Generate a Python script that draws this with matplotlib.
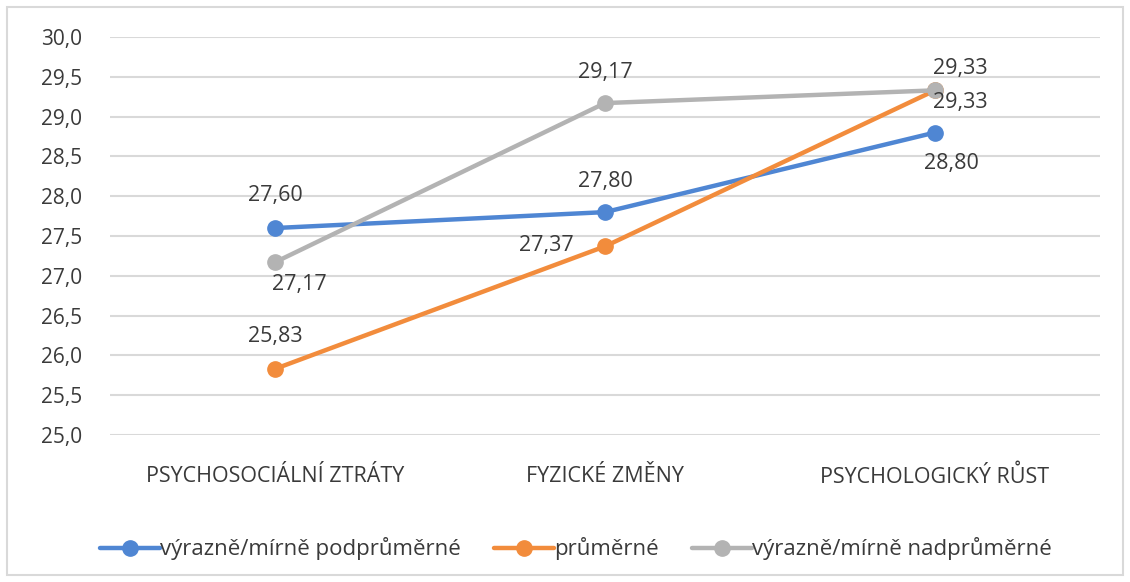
import matplotlib.pyplot as plt
from matplotlib.patches import Rectangle

plt.rcParams['font.family'] = ['Open Sans', 'DejaVu Sans']

# Data
categories = ["PSYCHOSOCIÁLNÍ ZTRÁTY", "FYZICKÉ ZMĚNY", "PSYCHOLOGICKÝ RŮST"]
series_names = ["výrazně/mírně podprůměrné", "průměrné", "výrazně/mírně nadprůměrné"]
below_avg = [27.60, 27.80, 28.80]
average = [25.83, 27.37, 29.33]
above_avg = [27.17, 29.17, 29.33]
y_ticks = [25.0, 25.5, 26.0, 26.5, 27.0, 27.5, 28.0, 28.5, 29.0, 29.5, 30.0]

colors = ["#4f86d3", "#f28c3c", "#b3b3b3"]
text_color = "#3a3a3a"

# label offsets in pixels (dx, dy) for each series / point
offsets = [
    [(0, 33), (0, 31), (16, -31)],
    [(0, 32), (-59, 1), (25, -12)],
    [(24, -22), (0, 31), (25, 22)],
]

fig = plt.figure(figsize=(11.3, 5.82), dpi=100)
ax = fig.add_axes([0.0973, 0.2526, 0.8762, 0.6838])

x = list(range(len(categories)))
all_series = [below_avg, average, above_avg]
for vals, name, col, offs in zip(all_series, series_names, colors, offsets):
    ax.plot(x, vals, color=col, lw=3.2, marker='o', markersize=11,
            label=name, solid_capstyle='round', zorder=3)
    for xi, v, (dx, dy) in zip(x, vals, offs):
        ax.annotate(f"{v:.2f}".replace('.', ','), (xi, v), xytext=(dx, dy),
                    textcoords='offset pixels', ha='center', va='center',
                    fontsize=15.5, color=text_color, zorder=4)

ax.set_xlim(-0.5, 2.5)
ax.set_ylim(25.0, 30.0)
ax.set_yticks(y_ticks)
ax.set_yticklabels([f"{t:.1f}".replace('.', ',') for t in y_ticks],
                   fontsize=15, color=text_color)
ax.set_xticks(x)
ax.set_xticklabels(categories, fontsize=15.5, color=text_color)
ax.tick_params(length=0, pad=22, axis='x')
ax.tick_params(length=0, pad=20, axis='y')
ax.grid(axis='y', color='#d9d9d9', lw=1.5)
ax.set_axisbelow(True)
for s in ax.spines.values():
    s.set_visible(False)

leg = fig.legend(loc='center', bbox_to_anchor=(0.51, 0.057), ncol=3,
                 frameon=False, fontsize=16, handlelength=2.7,
                 handletextpad=0.0, columnspacing=1.5)
for t in leg.get_texts():
    t.set_color(text_color)

fig.patches.append(Rectangle((0.006, 0.012), 0.988, 0.976, transform=fig.transFigure,
                             fill=False, edgecolor='#d9d9d9', lw=1.5))

fig.savefig("out.png", dpi=100)
